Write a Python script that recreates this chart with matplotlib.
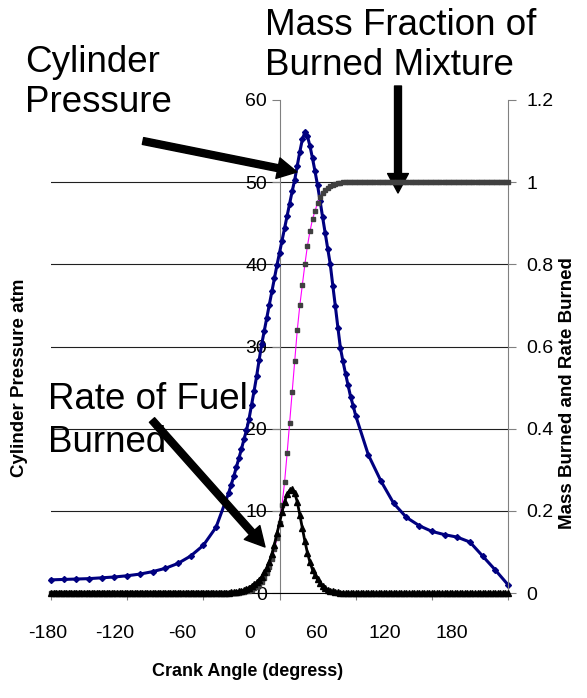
import matplotlib
matplotlib.use("Agg")
import matplotlib.pyplot as plt
from matplotlib.ticker import FormatStrFormatter

plt.rcParams['font.family'] = ['Liberation Sans', 'DejaVu Sans']
plt.rcParams['axes.unicode_minus'] = False

# crank angle grids (deg)
angle_p = list(range(-180, -40, 10)) + list(range(-40, 60, 2)) + list(range(60, 181, 10))
angle_b = list(range(-180, 181, 2))

# cylinder pressure (atm)
pressure = [1.6, 1.65, 1.7, 1.75, 1.85, 1.95, 2.1, 2.3, 2.6, 3.0, 3.6, 4.5, 5.8, 8.0,
            12.2, 13.2, 14.2, 15.3, 16.4, 17.5, 18.7, 19.8, 21.2, 22.9,
            24.6, 26.4, 28.4, 30.3, 31.9, 33.5, 35.1, 36.7, 38.3, 39.9,
            41.4, 42.9, 44.4, 45.9, 47.4, 48.9, 50.3, 52.0, 53.7, 55.2,
            56.1, 55.6, 54.4, 52.9, 51.3, 49.6, 47.7, 45.7, 43.8, 41.9,
            40.0, 37.4, 34.9, 32.3, 29.8, 28.2, 26.7, 25.3, 23.9, 22.8,
            21.6, 16.8, 13.6, 10.9, 9.2, 8.2, 7.5, 7.1, 6.8, 6.2, 4.5, 2.8, 1.0]

# mass fraction burned, -40..58 deg every 2 deg, flat elsewhere
mass_mid = [0.0, 0.0, 0.0, 0.001, 0.001, 0.002, 0.003, 0.004, 0.006, 0.008,
            0.011, 0.015, 0.020, 0.027, 0.036, 0.048, 0.063, 0.082, 0.106, 0.135,
            0.170, 0.215, 0.270, 0.340, 0.415, 0.490, 0.565, 0.640, 0.700, 0.750,
            0.800, 0.845, 0.880, 0.910, 0.930, 0.950, 0.963, 0.973, 0.981, 0.987,
            0.991, 0.994, 0.996, 0.998, 0.999, 1.0, 1.0, 1.0, 1.0, 1.0]
mass_burned = [0.0] * 70 + mass_mid + [1.0] * 61

# rate of fuel burned
rate_mid = [0.001, 0.002, 0.002, 0.003, 0.004, 0.005, 0.007, 0.010, 0.013, 0.017,
            0.021, 0.026, 0.032, 0.040, 0.050, 0.062, 0.076, 0.095, 0.118, 0.145,
            0.170, 0.198, 0.222, 0.240, 0.250, 0.252, 0.243, 0.222, 0.190, 0.158,
            0.126, 0.098, 0.075, 0.057, 0.044, 0.033, 0.024, 0.017, 0.012, 0.008,
            0.006, 0.004, 0.003, 0.002, 0.001, 0.001, 0.0, 0.0, 0.0, 0.0]
rate_burned = [0.0] * 70 + rate_mid + [0.0] * 61

x_ticks = [-180, -120, -60, 0, 60, 120, 180]
p_ticks = [0, 10, 20, 30, 40, 50, 60]
b_ticks = [0, 0.2, 0.4, 0.6, 0.8, 1.0, 1.2]

W, H = 587, 698
fig = plt.figure(figsize=(W / 100, H / 100), dpi=100)
ax = fig.add_axes([51 / W, 105 / H, 457 / W, 493 / H])
ax.patch.set_visible(False)

tick_size = 14

ax.plot(angle_p, pressure, color='#000080', lw=2.2, marker='D', ms=3, zorder=3,
        clip_on=False)
ax.set_xlim(-180, 180)
ax.set_ylim(0, 60)
ax.set_yticks(p_ticks)
ax.set_xticks(x_ticks)
ax.set_xticklabels([])
ax.spines['left'].set_position(('data', 0))
ax.spines['left'].set_color('#808080')
ax.spines['top'].set_visible(False)
ax.spines['right'].set_visible(False)
ax.spines['bottom'].set_color('black')
ax.spines['bottom'].set_linewidth(0.8)
ax.tick_params(axis='y', direction='out', length=6, color='#808080', pad=3,
               labelsize=tick_size)
ax.tick_params(axis='x', direction='out', length=5, color='#808080')
ax.yaxis.grid(True, color='#202020', lw=0.8)
ax.get_ygridlines()[-1].set_visible(False)
ax.set_axisbelow(True)

ax2 = ax.twinx()
ax2.plot(angle_b, mass_burned, color='#FF00FF', lw=0.8, marker='s', ms=3.5,
         mfc='#404040', mec='#404040', zorder=3, clip_on=False)
ax2.plot(angle_b, rate_burned, color='black', lw=2, marker='^', ms=3.8, zorder=4,
         clip_on=False)
ax2.set_ylim(0, 1.2)
ax2.set_yticks(b_ticks)
ax2.yaxis.set_major_formatter(FormatStrFormatter('%g'))
for s in ['left', 'top', 'bottom']:
    ax2.spines[s].set_visible(False)
ax2.spines['right'].set_color('#808080')
ax2.tick_params(axis='y', direction='out', length=6, color='#808080', pad=7,
                labelsize=tick_size)

# crank angle labels sit offset from the tick marks, as in the original
ax_lab = fig.add_axes([47.5 / W, 105 / H, 404.5 / W, 0.001])
ax_lab.patch.set_visible(False)
for s in ax_lab.spines.values():
    s.set_visible(False)
ax_lab.set_xlim(-180, 180)
ax_lab.set_xticks(x_ticks)
ax_lab.set_yticks([])
ax_lab.tick_params(axis='x', length=0, pad=23, labelsize=tick_size)

fig.text(248 / W, 1 - 672 / H, 'Crank Angle (degress)', ha='center', va='center',
         weight='bold', size=13)
fig.text(20 / W, 1 - 378 / H, 'Cylinder Pressure atm', rotation=90, ha='center',
         va='center', weight='bold', size=13.5)
fig.text(568 / W, 1 - 393 / H, 'Mass Burned and Rate Burned', rotation=90, ha='center',
         va='center', weight='bold', size=13.5)

big = 26.5
fig.text(265 / W, 1 - 75 / H, 'Mass Fraction of\nBurned Mixture', ha='left',
         va='baseline', size=big, linespacing=1.2)
fig.text(25 / W, 1 - 112 / H, 'Cylinder\nPressure', ha='left', va='baseline',
         size=big, linespacing=1.2)
fig.text(48 / W, 1 - 452 / H, 'Rate of Fuel\nBurned', ha='left', va='baseline',
         size=big, linespacing=1.3)

arrow = dict(arrowstyle='simple,head_length=0.7,head_width=0.75,tail_width=0.25',
             color='black', mutation_scale=20, shrinkA=0, shrinkB=0)
for tail, tip in [((143, 141), (297, 172)), ((398, 86), (398, 193)), ((152, 420), (265, 547))]:
    ax.annotate('', xy=(tip[0], H - tip[1]), xytext=(tail[0], H - tail[1]),
                xycoords='figure pixels', textcoords='figure pixels', arrowprops=arrow)

fig.savefig('out.png', dpi=100)
